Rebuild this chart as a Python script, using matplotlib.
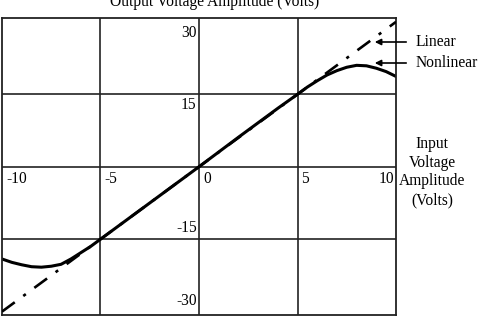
import matplotlib
matplotlib.use('Agg')
import matplotlib.pyplot as plt

plt.rcParams['font.family'] = ['Liberation Serif', 'DejaVu Serif']

# Input voltage (V) and output voltage (V)
x_linear = [-10, 10]
y_linear = [-30, 30]

x_nonlin = [-10, -9.5, -9, -8.5, -8, -7.5, -7, -6.5, -6, -5.5, -5, -4, -3, -2, -1, 0,
            1, 2, 3, 4, 5, 5.5, 6, 6.5, 7, 7.5, 8, 8.5, 9, 9.5, 10]
y_nonlin = [-19.1, -19.8, -20.3, -20.7, -20.8, -20.6, -20.2, -19.1, -17.8, -16.5, -15.0,
            -12.0, -9.0, -6.0, -3.0, 0.0, 3.05, 6.1, 9.1, 12.1, 15.0, 16.5, 17.8, 19.0,
            19.9, 20.6, 21.0, 20.9, 20.4, 19.7, 18.7]

x_ticks = [-10, -5, 0, 5, 10]
y_ticks = [-30, -15, 15, 30]

fig = plt.figure(figsize=(4.81, 3.19), dpi=100)
ax = fig.add_axes([2 / 481, 4 / 319, 394 / 481, 297 / 319])
ax.set_xlim(-10, 10)
ax.set_ylim(-30.7, 30.8)

# grid lines
for v in [-5, 0, 5]:
    ax.axvline(v, color='#222222', lw=1.2, zorder=1)
for v in [-15, 0, 15]:
    ax.axhline(v, color='#222222', lw=1.2, zorder=1)

ax.plot(x_linear, y_linear, color='black', lw=1.9, dashes=(6, 4, 1.2, 4), zorder=3)
ax.plot(x_nonlin, y_nonlin, color='black', lw=2.2, zorder=2)

ax.set_xticks([])
ax.set_yticks([])
for s in ax.spines.values():
    s.set_linewidth(1.3)
    s.set_color('#222222')

fs = 11.2
# x tick labels sit just below the zero line
for v in x_ticks:
    if v == 10:
        ax.text(9.9, -0.9, str(v), ha='right', va='top', fontsize=fs)
    else:
        ax.text(v + 0.2, -0.9, str(v), ha='left', va='top', fontsize=fs)
# y tick labels sit just left of the zero line
for v in y_ticks:
    if v > 0:
        ax.text(-0.12, v - 0.6, str(v), ha='right', va='top', fontsize=fs)
    else:
        ax.text(-0.12, v + 0.6, str(v), ha='right', va='bottom', fontsize=fs)

# labels outside the box
fig.text(215 / 481, 1 - 1.5 / 319, 'Output Voltage Amplitude (Volts)', ha='center',
         va='center', fontsize=fs)
fig.text(432 / 481, 1 - 172 / 319, 'Input\nVoltage\nAmplitude\n(Volts)', ha='center',
         va='center', fontsize=fs, linespacing=1.22)

fig.text(416 / 481, 1 - 42 / 319, 'Linear', ha='left', va='center', fontsize=fs)
fig.text(416 / 481, 1 - 63 / 319, 'Nonlinear', ha='left', va='center', fontsize=fs)
for yp in [42, 63]:
    fig.patches.append(matplotlib.patches.FancyArrowPatch(
        (409 / 481, 1 - yp / 319), (372 / 481, 1 - yp / 319),
        transform=fig.transFigure, arrowstyle='-|>', mutation_scale=9,
        color='black', lw=1.2))

fig.savefig('out.png', dpi=100)
